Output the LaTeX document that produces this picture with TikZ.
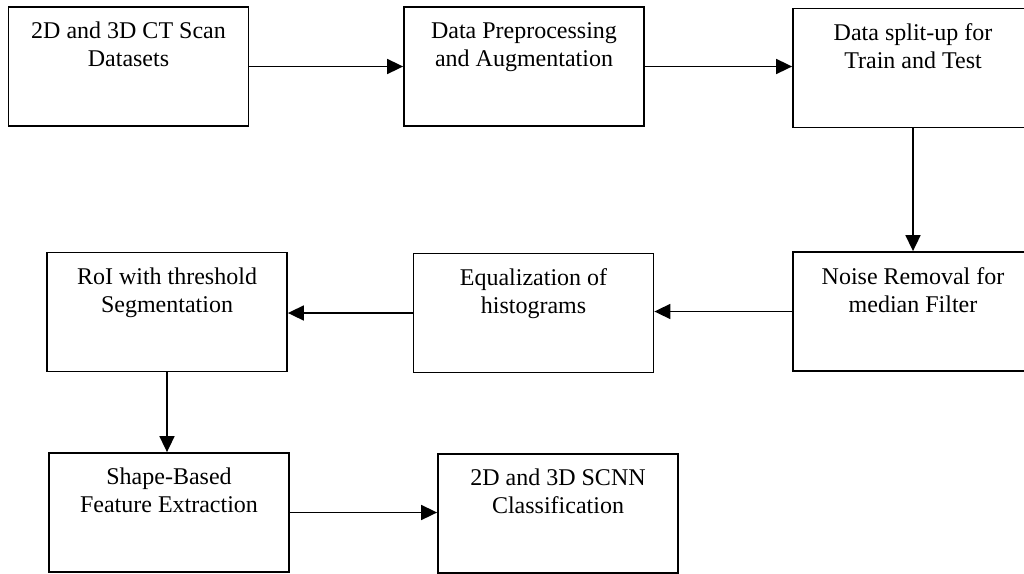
\documentclass[tikz,border=0pt]{standalone}
\usepackage{fontspec}
\setmainfont{Liberation Serif}
\usetikzlibrary{arrows.meta}
\tikzset{
  box/.style={draw=black, line width=1.8pt, minimum width=240pt, minimum height=119pt, inner sep=0pt},
  boxtext/.style={anchor=north, align=center, inner sep=0pt, font=\fontsize{24}{28}\selectfont},
  arr/.style={line width=1.7pt, -{Triangle[length=16pt,width=15pt]}}
}
\begin{document}
\begin{tikzpicture}[x=1pt,y=-1pt]
\useasboundingbox (0,0) rectangle (1024,573);
\clip (0,0) rectangle (1024,573);
\node[box] (b1) at (128.5,66.5) {};
\node[box] (b2) at (524,66.5) {};
\node[box] (b3) at (913,68) {};
\node[box] (b4) at (913,311.5) {};
\node[box] (b5) at (533.5,313) {};
\node[box] (b6) at (167,312) {};
\node[box] (b7) at (169,512.5) {};
\node[box] (b8) at (558,513.5) {};
\node[boxtext] (t1) at ([yshift=-16pt]b1.north) {2D and 3D CT Scan\\Datasets};
\node[boxtext] (t2) at ([yshift=-16pt]b2.north) {Data Preprocessing\\and Augmentation};
\node[boxtext] (t3) at ([yshift=-16pt]b3.north) {Data split-up for\\Train and Test};
\node[boxtext] (t4) at ([yshift=-16pt]b4.north) {Noise Removal for\\median Filter};
\node[boxtext] (t5) at ([yshift=-16pt]b5.north) {Equalization of\\histograms};
\node[boxtext] (t6) at ([yshift=-16pt]b6.north) {RoI with threshold\\Segmentation};
\node[boxtext] (t7) at ([yshift=-16pt]b7.north) {Shape-Based\\Feature Extraction};
\node[boxtext] (t8) at ([yshift=-16pt]b8.north) {2D and 3D SCNN\\Classification};
\draw[arr] (b1.east) -- (b2.west);
\draw[arr] (b2.east) -- (b2.east -| b3.west);
\draw[arr] (b3.south) -- (b4.north);
\draw[arr] (b4.west) -- (b4.west -| b5.east);
\draw[arr] (b5.west) -- (b5.west -| b6.east);
\draw[arr] (b6.south) -- (b6.south |- b7.north);
\draw[arr] (b7.east) -- (b7.east -| b8.west);
\end{tikzpicture}
\end{document}
